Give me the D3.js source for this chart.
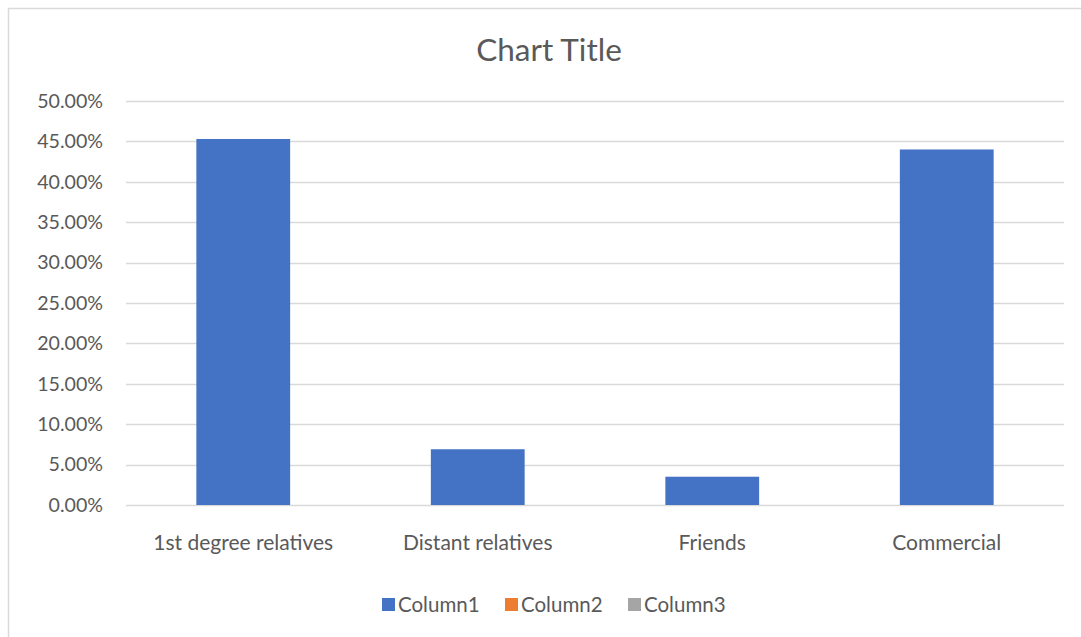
<!DOCTYPE html>
<html>
<head>
<meta charset="utf-8">
<script src="https://cdn.jsdelivr.net/npm/d3@7"></script>
<style>
  body { margin: 0; background: #fff; }
  text { font-family: Lato, "Open Sans", sans-serif; fill: #595959; }
</style>
</head>
<body>
<svg width="1081" height="637"></svg>
<script>
var categories = ["1st degree relatives", "Distant relatives", "Friends", "Commercial"];
var column1 = [0.453, 0.069, 0.035, 0.44];
var seriesNames = ["Column1", "Column2", "Column3"];
var seriesColors = ["#4472c4", "#ed7d31", "#a5a5a5"];
var yTicks = [0, 0.05, 0.1, 0.15, 0.2, 0.25, 0.3, 0.35, 0.4, 0.45, 0.5];

var svg = d3.select("svg");

// chart area border (runs past the window on right/bottom)
svg.append("rect")
    .attr("x", 8.5).attr("y", 8.5)
    .attr("width", 1090).attr("height", 640)
    .style("fill", "#fff").style("stroke", "#d9d9d9").style("stroke-width", 1.5);

var x = d3.scaleBand()
    .domain(categories)
    .range([126, 1064])
    .paddingInner(0.6)
    .paddingOuter(0.3);

var y = d3.scaleLinear()
    .domain([0, 0.5])
    .range([505, 101]);

// gridlines
svg.append("g").selectAll("line")
    .data(yTicks)
    .enter().append("line")
    .attr("x1", 126).attr("x2", 1064)
    .attr("y1", function (d) { return Math.round(y(d)) + 0.5; })
    .attr("y2", function (d) { return Math.round(y(d)) + 0.5; })
    .style("stroke", "#d9d9d9").style("stroke-width", 1.3);

// y labels
var yAxis = d3.axisLeft(y).tickValues(yTicks).tickFormat(d3.format(".2%")).tickSize(0).tickPadding(23);
var gy = svg.append("g").attr("transform", "translate(126,0)").call(yAxis);
gy.select(".domain").remove();
gy.selectAll("text").style("font-size", "19.6px").style("fill", "#595959");

// bars
svg.append("g").selectAll("rect")
    .data(column1)
    .enter().append("rect")
    .attr("x", function (d, i) { return x(categories[i]); })
    .attr("y", function (d) { return y(d); })
    .attr("width", x.bandwidth())
    .attr("height", function (d) { return y(0) - y(d); })
    .style("fill", seriesColors[0]);

// category labels
var xAxis = d3.axisBottom(x).tickSize(0).tickPadding(30);
var gx = svg.append("g").attr("transform", "translate(0,505)").call(xAxis);
gx.select(".domain").remove();
gx.selectAll("text").style("font-size", "21px").style("fill", "#595959");

// title
svg.append("text")
    .attr("x", 549).attr("y", 61)
    .attr("text-anchor", "middle")
    .style("font-size", "31.5px")
    .text("Chart Title");

// legend
var legendX = [382, 505, 628];
var legend = svg.append("g").selectAll("g")
    .data(seriesNames)
    .enter().append("g")
    .attr("transform", function (d, i) { return "translate(" + legendX[i] + ",598)"; });
legend.append("rect")
    .attr("width", 13).attr("height", 13)
    .style("fill", function (d, i) { return seriesColors[i]; });
legend.append("text")
    .attr("x", 16).attr("y", 14)
    .style("font-size", "20.5px")
    .text(function (d) { return d; });
</script>
</body>
</html>
